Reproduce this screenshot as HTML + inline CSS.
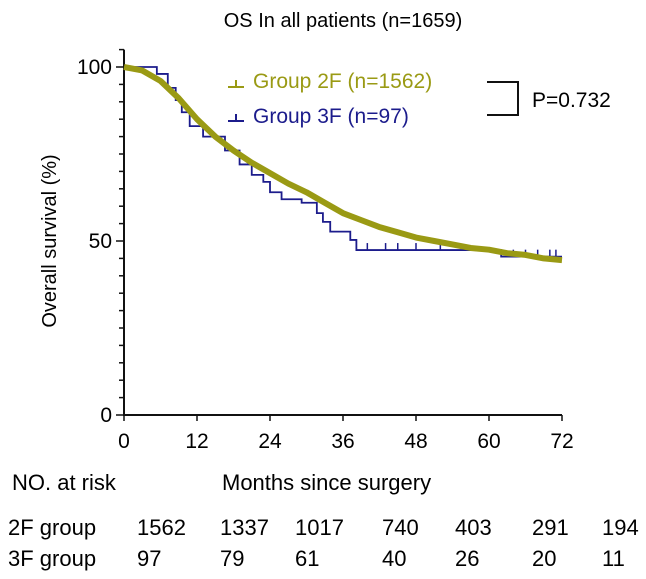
<!DOCTYPE html>
<html><head><meta charset="utf-8"><style>
body{margin:0;background:#fff}
svg{display:block;font-family:"Liberation Sans",Arial,sans-serif}
</style></head><body>
<svg id="chart" width="646" height="579">
<text x="343" y="27" font-size="20" text-anchor="middle">OS In all patients (n=1659)</text>
<text transform="translate(56,241) rotate(-90)" font-size="20" text-anchor="middle">Overall survival (%)</text>
<g id="axes"></g>
<g id="series"></g>
<g>
<g><path d="M228 87h16M236 80v7" stroke="#9a9a14" stroke-width="2"/><text x="253" y="88" font-size="21" fill="#9a9a14">Group 2F (n=1562)</text></g>
<g><path d="M228 121h16M236 114v7" stroke="#1c1c8c" stroke-width="2"/><text x="253" y="123" font-size="21" fill="#1c1c8c">Group 3F (n=97)</text></g>
</g>
<path d="M487 82h31v33h-31" fill="none" stroke="#111" stroke-width="2"/>
<text x="532" y="107" font-size="21">P=0.732</text>
<text x="12" y="490" font-size="22">NO. at risk</text>
<text x="222" y="490" font-size="22">Months since surgery</text>
<g id="risk"></g>
</svg>
<script>
const xTicks=[0,12,24,36,48,60,72];
const yTicks=[0,50,100];
const t2F=[0,3,6,9,12,15,18,21,24,27,30,33,36,39,42,45,48,51,54,57,60,63,66,69,72];
const s2F=[100,99,96,91,85,80,76,72.5,69.5,66.5,64,61,58,56,54,52.5,51,50,49,48,47.5,46.5,46,45,44.5];
const t3F=[0,5.4,7.2,8.5,9.5,10.8,13,16.6,19,21,22.9,24,25.9,29.2,31.7,32.7,33.9,37.2,38.2,62,72];
const s3F=[100,98,94,90.5,87,83,80,76,72,69,67,64,62,61,58,55.5,52.7,50.3,47.4,45.5,45.5];
const cens3F=[40,43,45,48,52,64,66,68,70,71];
const risk2F=["1562","1337","1017","740","403","291","194"];
const risk3F=["97","79","61","40","26","20","11"];
const NS="http://www.w3.org/2000/svg";
const X=m=>124+m*438/72, Y=p=>415-p*3.48;
function mk(t,a,p){const e=document.createElementNS(NS,t);for(const k in a)e.setAttribute(k,a[k]);p.appendChild(e);return e;}
const ax=document.getElementById('axes');
let a=mk('path',{d:`M124 ${Y(105)}V415H562`,fill:'none',stroke:'#111','stroke-width':2},ax);


for(let p=0;p<=105;p+=5){const t=mk('line',{x1:p%50?119:116,x2:124,y1:Y(p),y2:Y(p),stroke:'#111','stroke-width':1.5},ax);

}
yTicks.forEach(v=>{const t=mk('text',{x:112,y:Y(v)+7,'font-size':21,'text-anchor':'end'},ax);t.textContent=v;

});
xTicks.forEach(v=>{const l=mk('line',{x1:X(v),x2:X(v),y1:415,y2:421,stroke:'#111','stroke-width':1.5},ax);


const t=mk('text',{x:X(v),y:448,'font-size':21,'text-anchor':'middle'},ax);t.textContent=v;

});
const se=document.getElementById('series');
function step(ts,ss){let d=`M${X(ts[0])} ${Y(ss[0])}`;for(let i=1;i<ts.length;i++)d+=`H${X(ts[i])}V${Y(ss[i])}`;return d;}
function smooth(ts,ss){return ts.map((t,i)=>(i?'L':'M')+X(t)+' '+Y(ss[i])).join('');}
let l3=mk('path',{d:step(t3F,s3F),fill:'none',stroke:'#1c1c8c','stroke-width':1.8},se);


cens3F.forEach(m=>{let v=s3F[0];for(let i=0;i<t3F.length;i++)if(t3F[i]<=m)v=s3F[i];
const c=mk('line',{x1:X(m),x2:X(m),y1:Y(v)-7,y2:Y(v),stroke:'#1c1c8c','stroke-width':1.5},se);

});
let l2=mk('path',{d:smooth(t2F,s2F),fill:'none',stroke:'#9a9a14','stroke-width':6,'stroke-linejoin':'round'},se);


const rk=document.getElementById('risk');
const cols=[137,220,295,382,455,532,602];
[['2F group',risk2F,535],['3F group',risk3F,566]].forEach(([lab,arr,y])=>{
const t=mk('text',{x:8,y:y,'font-size':22},rk);t.textContent=lab;


arr.forEach((v,i)=>{const n=mk('text',{x:cols[i],y:y,'font-size':22},rk);n.textContent=v;

});});
</script>
</body></html>
